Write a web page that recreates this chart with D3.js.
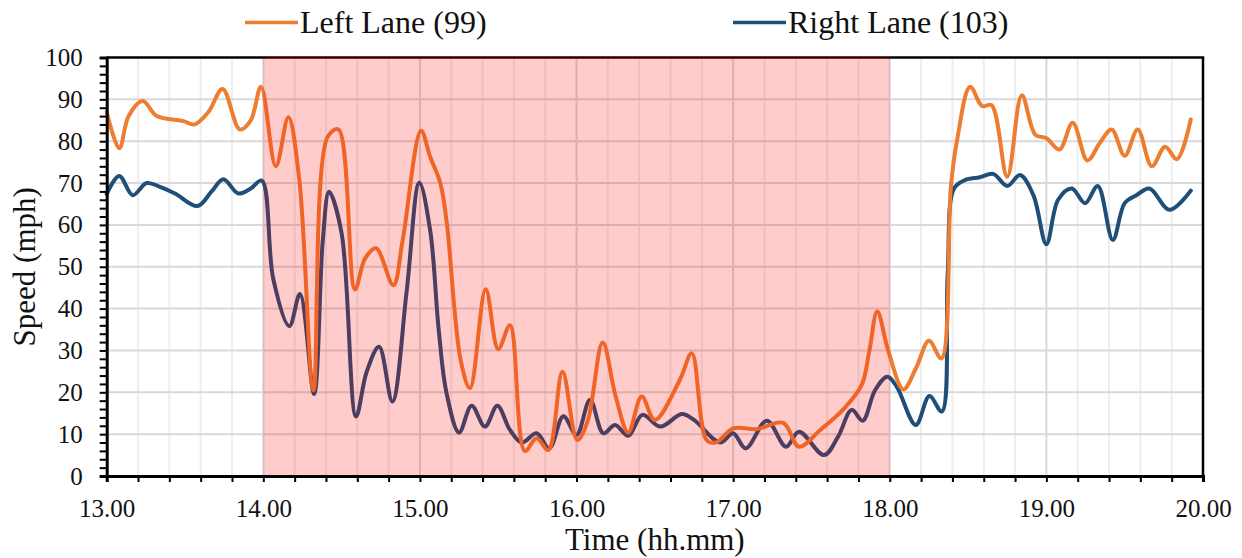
<!DOCTYPE html>
<html>
<head>
<meta charset="utf-8">
<script src="https://cdn.jsdelivr.net/npm/d3@7"></script>
<style>
  html, body { margin: 0; padding: 0; background: #fff; }
  svg { display: block; }
  svg text { font-family: "Times New Roman", "Liberation Serif", "DejaVu Serif", serif !important; fill: #111; }
</style>
</head>
<body>
<svg id="chart" width="1242" height="558"></svg>
<script>
// Left lane speed samples (time in decimal hours, speed in mph)
const leftTimes = [13.00, 13.08, 13.14, 13.23, 13.32, 13.49, 13.56, 13.65, 13.74, 13.85, 13.92, 13.985,
  14.08, 14.16, 14.23, 14.32, 14.41, 14.48, 14.585, 14.65, 14.72, 14.83, 14.89, 15.007, 15.065, 15.13,
  15.17, 15.26, 15.32, 15.42, 15.50, 15.575, 15.67, 15.745, 15.82, 15.91, 16.005, 16.07, 16.167, 16.25,
  16.33, 16.416, 16.50, 16.66, 16.736, 16.83, 16.89, 17.00, 17.15, 17.32, 17.42, 17.556, 17.70, 17.82,
  17.87, 17.92, 17.99, 18.087, 18.17, 18.25, 18.33, 18.39, 18.43, 18.513, 18.59, 18.65, 18.75, 18.843,
  18.93, 19.00, 19.083, 19.168, 19.262, 19.34, 19.417, 19.50, 19.583, 19.673, 19.758, 19.833, 19.922];
const leftSpeed = [87.0, 78.3, 86.0, 89.6, 86.0, 84.8, 84.0, 87.0, 92.5, 82.8, 85.0, 93.0,
  74.0, 85.7, 70.7, 20.5, 81.0, 82.8, 44.6, 52.0, 54.4, 45.6, 56.4, 82.5, 76.3, 70.0,
  61.0, 27.7, 21.0, 44.6, 30.3, 36.0, 6.0, 9.0, 6.2, 24.9, 8.6, 13.0, 31.9, 19.0,
  10.4, 19.0, 13.4, 23.0, 29.3, 8.6, 8.0, 11.4, 11.2, 12.7, 7.0, 11.0, 15.8, 21.7,
  30.0, 39.3, 30.0, 20.7, 26.0, 32.3, 28.1, 69.0, 80.3, 93.0, 88.4, 88.6, 71.5, 91.0,
  81.5, 80.7, 78.0, 84.4, 75.4, 79.5, 82.8, 76.5, 82.8, 74.0, 78.7, 75.7, 85.2];

// Right lane speed samples
const rightTimes = [13.00, 13.08, 13.166, 13.255, 13.34, 13.436, 13.58, 13.67, 13.745, 13.84, 13.92, 13.99,
  14.064, 14.166, 14.234, 14.324, 14.38, 14.42, 14.50, 14.592, 14.66, 14.739, 14.824, 14.916, 14.996,
  15.065, 15.12, 15.17, 15.25, 15.33, 15.415, 15.494, 15.575, 15.65, 15.745, 15.826, 15.916, 16.00, 16.086,
  16.171, 16.246, 16.33, 16.42, 16.535, 16.672, 16.75, 16.916, 17.00, 17.08, 17.215, 17.338, 17.42, 17.58,
  17.67, 17.757, 17.827, 17.906, 17.985, 18.045, 18.166, 18.253, 18.332, 18.37, 18.41, 18.48, 18.575, 18.66,
  18.75, 18.832, 18.917, 19.00, 19.075, 19.162, 19.247, 19.328, 19.424, 19.50, 19.575, 19.658, 19.786, 19.922];
const rightSpeed = [67.4, 71.7, 67.1, 70.0, 69.1, 67.5, 64.5, 68.0, 70.9, 67.5, 68.7, 70.6,
  47.0, 35.8, 43.5, 19.6, 56.4, 67.9, 58.0, 14.2, 24.9, 30.9, 17.8, 44.4, 70.1,
  58.8, 34.9, 19.8, 10.4, 16.8, 11.8, 16.8, 11.0, 8.0, 10.2, 6.6, 14.3, 9.8, 18.2,
  10.2, 12.2, 9.6, 14.6, 11.8, 14.8, 13.4, 8.0, 10.2, 6.6, 13.2, 7.0, 10.6, 5.0,
  9.4, 15.8, 13.2, 20.5, 23.7, 21.3, 12.2, 19.1, 15.4, 48.4, 68.7, 70.7, 71.4, 72.2,
  69.3, 71.9, 67.1, 55.4, 66.0, 68.7, 65.2, 69.3, 56.4, 65.2, 67.1, 68.7, 63.6, 68.2];

// Shaded period and axis settings
const shadedPeriod = [14, 18];
const timeDomain = [13, 20];
const speedDomain = [0, 100];
const legendLabels = ["Left Lane (99)", "Right Lane (103)"];
const xTitle = "Time (hh.mm)";
const yTitle = "Speed (mph)";

const colors = { left: "#ed7d31", right: "#1f4e79" };
const serif = "'Times New Roman', 'Liberation Serif', 'DejaVu Serif', serif";

const svg = d3.select("#chart");
const plot = { left: 106.7, right: 1203, top: 57.5, bottom: 476 };

const x = d3.scaleLinear().domain(timeDomain).range([plot.left, plot.right]);
const y = d3.scaleLinear().domain(speedDomain).range([plot.bottom, plot.top]);

// Grid: light minor verticals every 0.2 h, darker hourly verticals, horizontals every 10 mph
const grid = svg.append("g");
const minorX = d3.range(13.2, 19.9, 0.2).filter(t => Math.abs(t - Math.round(t)) > 0.01);
const majorX = d3.range(14, 20, 1);
grid.selectAll("line.minor").data(minorX).join("line")
  .attr("x1", d => x(d)).attr("x2", d => x(d))
  .attr("y1", plot.top).attr("y2", plot.bottom)
  .attr("stroke", "#eeeeee").attr("stroke-width", 2);
grid.selectAll("line.major").data(majorX).join("line")
  .attr("x1", d => x(d)).attr("x2", d => x(d))
  .attr("y1", plot.top).attr("y2", plot.bottom)
  .attr("stroke", "#d9d9d9").attr("stroke-width", 2);
grid.selectAll("line.h").data(d3.range(10, 100, 10)).join("line")
  .attr("x1", plot.left).attr("x2", plot.right)
  .attr("y1", d => y(d)).attr("y2", d => y(d))
  .attr("stroke", "#d9d9d9").attr("stroke-width", 2);

// Speed lines
const line = d3.line().curve(d3.curveCatmullRom.alpha(0.5));
const leftPts = leftTimes.map((t, i) => [x(t), y(leftSpeed[i])]);
const rightPts = rightTimes.map((t, i) => [x(t), y(rightSpeed[i])]);

svg.append("path").attr("d", line(rightPts))
  .attr("fill", "none").attr("stroke", colors.right).attr("stroke-width", 4)
  .attr("stroke-linejoin", "round").attr("stroke-linecap", "round");
svg.append("path").attr("d", line(leftPts))
  .attr("fill", "none").attr("stroke", colors.left).attr("stroke-width", 4)
  .attr("stroke-linejoin", "round").attr("stroke-linecap", "round");

// Plot frame (top and right)
svg.append("line").attr("x1", plot.left).attr("x2", plot.right + 1.2)
  .attr("y1", plot.top).attr("y2", plot.top)
  .attr("stroke", "#000").attr("stroke-width", 2.5);
svg.append("line").attr("x1", plot.right).attr("x2", plot.right)
  .attr("y1", plot.top).attr("y2", plot.bottom)
  .attr("stroke", "#000").attr("stroke-width", 2.5);

// Translucent red band over the congested period
svg.append("rect")
  .attr("x", x(shadedPeriod[0])).attr("width", x(shadedPeriod[1]) - x(shadedPeriod[0]))
  .attr("y", plot.top - 1.5).attr("height", plot.bottom - plot.top + 1.5)
  .attr("fill", "rgba(255,0,0,0.2)");

// Axes
const xAxis = d3.axisBottom(x)
  .tickValues(d3.range(13, 20.01, 0.2))
  .tickSize(6).tickPadding(17)
  .tickFormat(d => Math.abs(d - Math.round(d)) < 0.01 ? d3.format(".2f")(d) : "");
const gx = svg.append("g").attr("transform", `translate(0,${plot.bottom})`).call(xAxis)
  .attr("font-family", serif).attr("font-size", 25);
gx.select(".domain").attr("stroke", "#000").attr("stroke-width", 3);
gx.selectAll(".tick line").attr("stroke", "#000").attr("stroke-width", 2);
gx.selectAll(".tick text").style("font-family", serif).style("font-size", "25px").attr("fill", "#111");

const yAxis = d3.axisLeft(y)
  .tickValues(d3.range(0, 101, 2))
  .tickSize(7).tickPadding(17)
  .tickFormat(d => d % 10 === 0 ? d : "");
const gy = svg.append("g").attr("transform", `translate(${plot.left},0)`).call(yAxis)
  .attr("font-family", serif).attr("font-size", 25);
gy.select(".domain").attr("stroke", "#000").attr("stroke-width", 3);
gy.selectAll(".tick line").attr("stroke", "#000").attr("stroke-width", 2);
gy.selectAll(".tick text").style("font-family", serif).style("font-size", "25px").attr("fill", "#111");

// Axis titles
svg.append("text").attr("x", (plot.left + plot.right) / 2).attr("y", 550)
  .attr("text-anchor", "middle").style("font-family", serif).style("font-size", "31px").text(xTitle);
svg.append("text").attr("transform", `translate(35,${(plot.top + plot.bottom) / 2}) rotate(-90)`)
  .attr("text-anchor", "middle").style("font-family", serif).style("font-size", "31px").text(yTitle);

// Legend
const legend = [
  { label: legendLabels[0], color: colors.left, x: 245 },
  { label: legendLabels[1], color: colors.right, x: 733 }
];
const lg = svg.append("g").selectAll("g").data(legend).join("g")
  .attr("transform", d => `translate(${d.x},22.5)`);
lg.append("line").attr("x1", 0).attr("x2", 53).attr("y1", 0).attr("y2", 0)
  .attr("stroke", d => d.color).attr("stroke-width", 3.5);
lg.append("text").attr("x", 55).attr("y", 10.5)
  .style("font-family", serif).style("font-size", "32px").text(d => d.label);
</script>
</body>
</html>
